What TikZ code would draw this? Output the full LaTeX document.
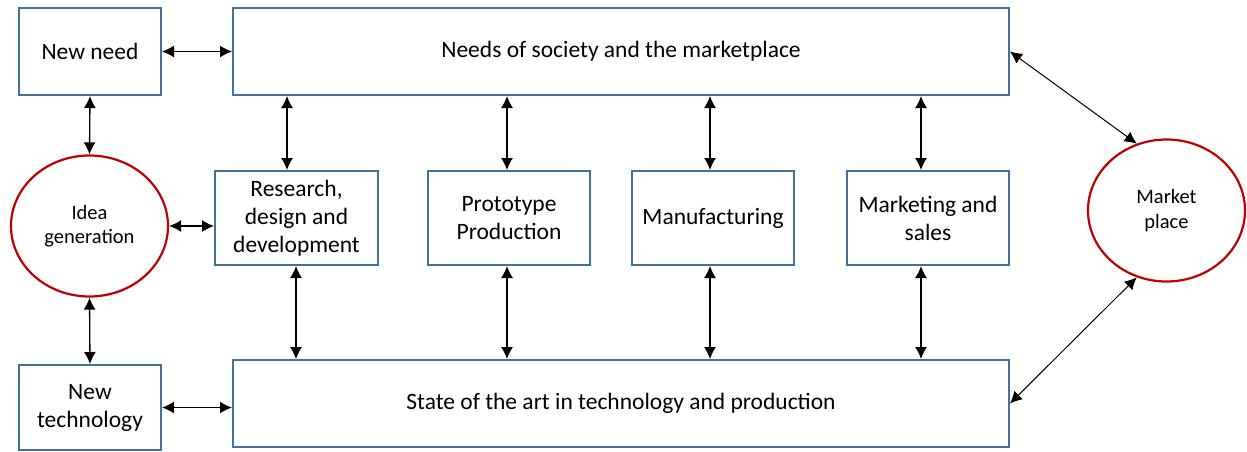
\documentclass[tikz,border=0pt]{standalone}
\usepackage{fontspec}
\setmainfont{Carlito}
\usetikzlibrary{arrows.meta,shapes.geometric}
\definecolor{boxblue}{HTML}{41719C}
\definecolor{ellred}{HTML}{C00000}
\begin{document}
\begin{tikzpicture}[x=1pt,y=-1pt,
  box/.style={draw=boxblue,line width=2pt,fill=white,align=center,inner sep=2pt,
    font=\fontsize{23.5}{28}\selectfont},
  ell/.style={ellipse,draw=ellred,line width=2.2pt,fill=white,align=center,inner sep=0pt,
    font=\fontsize{20.5}{24.5}\selectfont},
  arr/.style={{Latex[length=12pt,width=12pt]}-{Latex[length=12pt,width=12pt]},line width=1.3pt,black},
  darr/.style={{Latex[length=12pt,width=12pt]}-{Latex[length=12pt,width=12pt]},line width=1pt,black}]
\useasboundingbox (0,0) rectangle (1247,451);
% boxes
\node[box,minimum width=142pt,minimum height=87pt] (newneed) at (90,51.5) {New need};
\node[box,minimum width=776pt,minimum height=87pt] (needs) at (621,51.5) {Needs of society and the marketplace};
\node[box,minimum width=163pt,minimum height=94pt] (research) at (296.5,218) {Research,\\design and\\development};
\node[box,minimum width=162pt,minimum height=94pt] (proto) at (509,218) {Prototype\\Production};
\node[box,minimum width=162pt,minimum height=94pt] (manuf) at (713,218) {Manufacturing};
\node[box,minimum width=162pt,minimum height=94pt] (mkt) at (928,218) {Marketing and\\sales};
\node[box,minimum width=142pt,minimum height=85pt] (newtech) at (90,407.5) {New\\technology};
\node[box,minimum width=776pt,minimum height=87pt] (state) at (621,403.5) {State of the art in technology and production};
% ellipses
\node[ell,minimum width=157pt,minimum height=141pt] (idea) at (89.5,226) {Idea\\generation};
\node[ell,minimum width=157pt,minimum height=142pt] (mp) at (1166.5,210.5) {Market\\place};
% connectors
\draw[arr] (newneed.east) -- (needs.west);
\draw[arr] (newneed.south) -- (idea.north);
\draw[arr] (idea.east) -- (research.west |- idea.east);
\draw[arr] (idea.south) -- (newtech.north);
\draw[arr] (newtech.east) -- (state.west |- newtech.east);
\draw[arr] (needs.south -| 287,0) -- (research.north -| 287,0);
\draw[arr] (research.south -| 296,0) -- (state.north -| 296,0);
\draw[arr] (needs.south -| 507,0) -- (proto.north -| 507,0);
\draw[arr] (proto.south -| 507,0) -- (state.north -| 507,0);
\draw[arr] (needs.south -| 710,0) -- (manuf.north -| 710,0);
\draw[arr] (manuf.south -| 710,0) -- (state.north -| 710,0);
\draw[arr] (needs.south -| 921,0) -- (mkt.north -| 921,0);
\draw[arr] (mkt.south -| 921,0) -- (state.north -| 921,0);
\draw[darr] (needs.east) -- (mp.114);
\draw[darr] (state.east) -- (mp.-114);
\end{tikzpicture}
\end{document}
